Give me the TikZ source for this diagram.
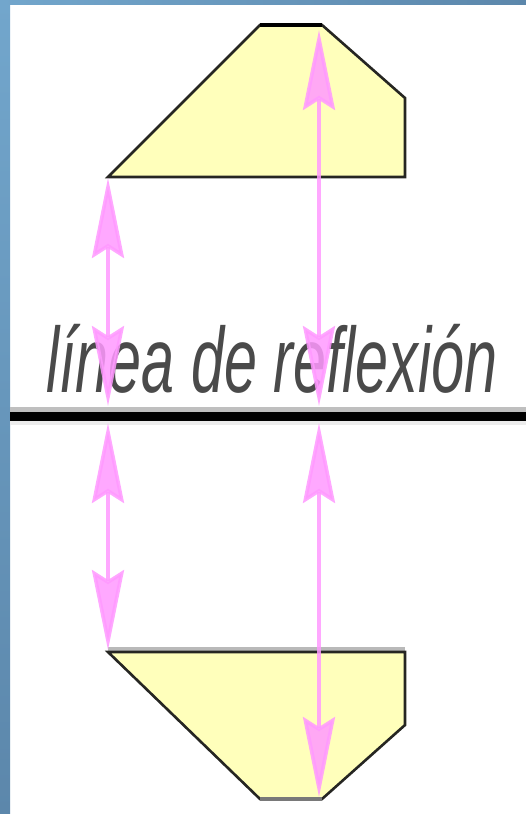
\documentclass[tikz,border=0pt]{standalone}
\usepackage{fontspec}
\setmainfont{Liberation Sans}
\usetikzlibrary{arrows.meta}
\definecolor{frameA}{HTML}{72A6CC}
\definecolor{frameB}{HTML}{5C87AB}
\definecolor{shapefill}{HTML}{FFFFBB}
\definecolor{shapeline}{HTML}{262622}
\definecolor{pinkarrow}{HTML}{FF99FF}
\definecolor{textgray}{HTML}{4A4A4A}
\tikzset{
  figshape/.style={fill=shapefill, draw=shapeline, line width=2.6bp, line join=miter},
  reflarrow/.style={draw=pinkarrow, line width=3.6bp, opacity=0.85,
    {Stealth[length=80bp,width=32bp,inset=10bp]}-{Stealth[length=80bp,width=32bp,inset=10bp]}},
  labeltext/.style={inner sep=0pt, text=textgray, font=\fontsize{93}{93}\selectfont\itshape}
}
\begin{document}
\begin{tikzpicture}[x=1bp,y=-1bp]
\useasboundingbox (0,0) rectangle (526,814);
\fill[white] (0,0) rectangle (526,814);
% frame
\shade[top color=frameA, bottom color=frameB] (0,0) rectangle (10,814);
\shade[left color=frameA, right color=frameB] (0,0) rectangle (526,5);
% top figure
\coordinate (t1) at (260,25);
\coordinate (t2) at (322,25);
\coordinate (t3) at (405,98);
\coordinate (t4) at (405,177);
\coordinate (t5) at (108,177);
\draw[figshape] (t1) -- (t2) -- (t3) -- (t4) -- (t5) -- cycle;
\draw[black, line width=4bp] (t1) -- (t2);
% bottom figure
\coordinate (b1) at (108,652);
\coordinate (b2) at (405,652);
\coordinate (b3) at (405,725);
\coordinate (b4) at (322,799);
\coordinate (b5) at (260,799);
\fill[gray!55] (108,647) rectangle (405,652);
\draw[figshape] (b1) -- (b2) -- (b3) -- (b4) -- (b5) -- cycle;
\draw[color=gray!95!black, line width=4bp] (b4) -- (b5);
% label
\node[labeltext, anchor=base] (lbl) at (272,392) {\scalebox{0.64}[1]{línea de reflexión}};
% reflection line
\fill[gray!50] (10,407) rectangle (526,412);
\fill[gray!15] (10,421) rectangle (526,425);
\coordinate (lineL) at (10,416.5);
\coordinate (lineR) at (526,416.5);
\draw[black, line width=9bp] (lineL) -- (lineR);
% arrow end points
\coordinate (a1s) at (108,178);
\coordinate (a1e) at (108,406);
\coordinate (a2s) at (319,30);
\coordinate (a2e) at (319,406);
\coordinate (a3s) at (108,423);
\coordinate (a3e) at (108,650);
\coordinate (a4s) at (319,423);
\coordinate (a4e) at (319,797);
\draw[reflarrow] (a1s) -- (a1e);
\draw[reflarrow] (a2s) -- (a2e);
\draw[reflarrow] (a3s) -- (a3e);
\draw[reflarrow] (a4s) -- (a4e);
\end{tikzpicture}
\end{document}
